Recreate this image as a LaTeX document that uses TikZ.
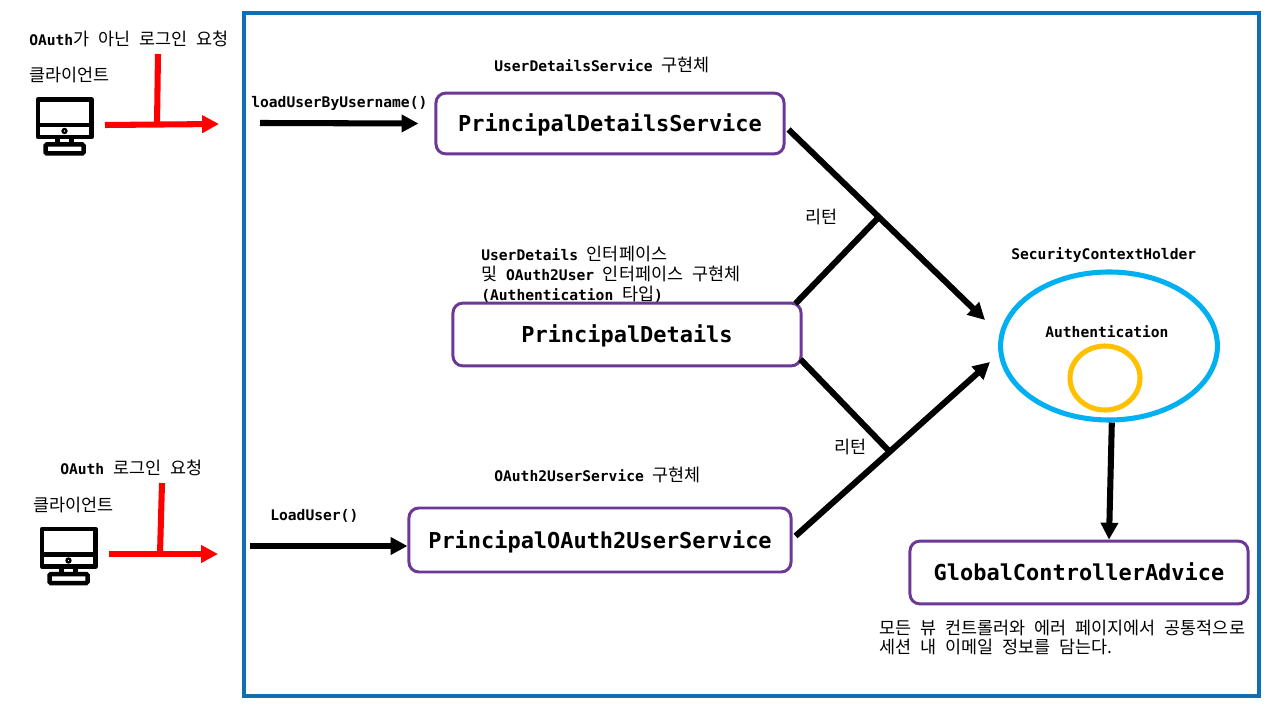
\documentclass[tikz,border=0pt]{standalone}
\usepackage{fontspec}
\usepackage{xcolor}
\usepackage{tikz}
\usetikzlibrary{arrows.meta,shapes.geometric}
\setmainfont{DejaVu Sans Mono}
\newfontfamily\krfont[WordSpace=2.3]{Noto Sans CJK KR}
\newcommand{\kr}[1]{{\krfont\mdseries\fontsize{12.4}{14.2}\selectfont #1}}
\definecolor{framingblue}{RGB}{16,110,178}
\definecolor{boxpurple}{RGB}{108,56,150}
\definecolor{holderblue}{RGB}{0,176,240}
\definecolor{authyellow}{RGB}{255,192,0}
\definecolor{requestred}{RGB}{255,0,0}
\tikzset{
  procbox/.style={draw=boxpurple,line width=2.1pt,rounded corners=7pt,fill=white,inner sep=0pt,
    text height=13.5pt,text depth=2pt,font=\fontsize{15.6}{18}\selectfont\bfseries},
  labeltext/.style={anchor=west,inner sep=0pt,align=left,font=\fontsize{10.4}{14.2}\selectfont\bfseries},
  krtext/.style={anchor=west,inner sep=0pt,align=left,font=\krfont\fontsize{12.4}{13.6}\selectfont},
  blackline/.style={line width=4.3pt,black},
  blackarrow/.style={blackline,-{Triangle[length=12pt,width=12pt]}},
  redline/.style={line width=4.3pt,requestred},
  redarrow/.style={redline,-{Triangle[length=12pt,width=12pt]}},
  clienticon/.pic={
    % monitor
    \draw[line width=3.2pt,line join=round] (0.5,1) rectangle (54,38.5);
    \draw[line width=3.2pt] (0.5,26.5) -- (54,26.5);
    \draw[line width=1.6pt] (27,32.5) circle (2);
    % stand and foot
    \draw[line width=3.2pt] (20,38.5) -- (20,46);
    \draw[line width=3.2pt] (34,38.5) -- (34,46);
    \draw[line width=3.2pt,rounded corners=1pt] (8,46) rectangle (46,55);
  }
}

\begin{document}
\begin{tikzpicture}[x=0.025cm,y=-0.025cm]
\useasboundingbox (0,0) rectangle (1280,720);
% Outer frame
\draw[framingblue,line width=2.2pt] (244,13) rectangle (1259,696);
% Top client
\pic at (37.5,98.5) {clienticon};
\node[labeltext] (plainrequest) at (29,39) {OAuth\kr{가 아닌 로그인 요청}};
\node[krtext] (plainclient) at (29,75) {클라이언트};
\coordinate (plainstart) at (105,125);
\coordinate (plainend) at (219,124);
\coordinate (plainjoin) at (157,125);
\coordinate (plainstem) at (158,54);
% Bottom client
\pic at (41.5,528) {clienticon};
\node[labeltext] (oauthrequest) at (60,468) {OAuth \kr{로그인 요청}};
\node[krtext] (oauthclient) at (33,505) {클라이언트};
\coordinate (oauthstart) at (109,554);
\coordinate (oauthend) at (218,554);
\coordinate (oauthjoin) at (160,554);
\coordinate (oauthstem) at (162,483);
% Service and details boxes
\node[procbox,minimum width=8.7cm,minimum height=1.52cm] (detailsservice) at (610,123.5) {PrincipalDetailsService};
\node[procbox,minimum width=8.7cm,minimum height=1.57cm] (details) at (627,334.5) {PrincipalDetails};
\node[procbox,minimum width=9.55cm,minimum height=1.6cm] (oauthservice) at (600,540) {PrincipalOAuth2UserService};
\node[procbox,minimum width=8.45cm,minimum height=1.57cm] (advice) at (1079,572.5) {GlobalControllerAdvice};
% Labels
\node[labeltext] (loadlabel) at (251,103) {loadUserByUsername()};
\node[labeltext] (servicelabel) at (494,65) {UserDetailsService \kr{구현체}};
\node[labeltext] (detailslabel) at (481,274) {UserDetails \kr{인터페이스}\\\kr{및} OAuth2User \kr{인터페이스 구현체}\\(Authentication \kr{타입})};
\node[labeltext] (oauthlabel) at (494,475) {OAuth2UserService \kr{구현체}};
\node[labeltext] (loaduserlabel) at (270,516) {LoadUser()};
\node[krtext] (returntop) at (805,217) {리턴};
\node[krtext] (returnbottom) at (834,447) {리턴};
\node[labeltext] (holderlabel) at (1011,255) {SecurityContextHolder};
% Holder ellipse
\node[ellipse,draw=holderblue,line width=3.6pt,minimum width=5.42cm,minimum height=3.7cm,inner sep=0pt] (holder) at (1109,346) {};
\node[ellipse,draw=authyellow,line width=3.6pt,minimum width=1.75cm,minimum height=1.6cm,inner sep=0pt] (authcircle) at (1105,378) {};
\node[labeltext] (authlabel) at (1045,332) {Authentication};
\node[krtext] (advicenote) at (879,637.5) {모든 뷰 컨트롤러와 에러 페이지에서 공통적으로\\세션 내 이메일 정보를 담는다.};
% Join points on the return arrows
\coordinate (topjoin) at (877,219);
\coordinate (bottomjoin) at (889,451);
\coordinate (holderin) at (985,320);
\coordinate (holderinb) at (990,362);
\coordinate (loadstart) at (260,123);
\coordinate (loaduserstart) at (250,546);
% Connectors
\draw[redarrow] (plainstart) -- (plainend);
\draw[redline] (plainstem) -- (plainjoin);
\draw[redarrow] (oauthstart) -- (oauthend);
\draw[redline] (oauthstem) -- (oauthjoin);
\draw[blackarrow] (loadstart) -- ([shift={(-16,0)}]detailsservice.west);
\draw[blackarrow] (loaduserstart) -- ([shift={(0,6)}]oauthservice.west);
\draw[blackarrow] ([shift={(3,6)}]detailsservice.east) -- (holderin);
\draw[blackline] ([shift={(-7,2)}]details.north east) -- (topjoin);
\draw[blackline] ([shift={(-2,-8)}]details.south east) -- (bottomjoin);
\draw[blackarrow] ([shift={(3,-4)}]oauthservice.east) -- (holderinb);
\draw[blackarrow] ([xshift=2pt]holder.south) -- (advice.north-|holder.south);
\end{tikzpicture}
\end{document}
